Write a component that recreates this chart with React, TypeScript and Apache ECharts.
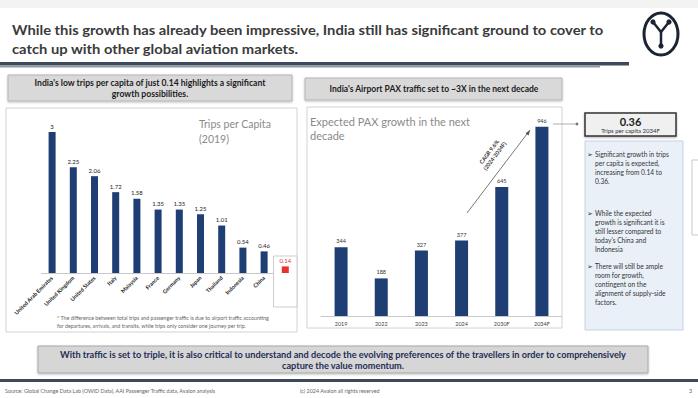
import React, { useEffect, useRef } from "react";
import * as echarts from "echarts";

const countries = [
  "United Arab Emirates", "United Kingdom", "United States", "Italy", "Malaysia",
  "France", "Germany", "Japan", "Thailand", "Indonesia", "China", "India",
];
const tripsPerCapita = [3, 2.25, 2.06, 1.72, 1.58, 1.35, 1.35, 1.25, 1.01, 0.54, 0.46, 0.14];
const highlightCountry = "India";
const paxYears = ["2019", "2022", "2023", "2024", "2030F", "2034F"];
const paxMillions = [344, 188, 327, 377, 645, 946];

const FONT = "Lato, 'Liberation Sans', sans-serif";
const NAVY = "#1f3e74";
const RED = "#e8322c";

function txt(x: number, y: number, text: string, o: any = {}) {
  const align = o.align || "left";
  const va = o.va || "middle";
  return {
    type: "text",
    x,
    y,
    rotation: o.rotation || 0,
    scaleX: o.sx || 1,
    z: o.z ?? 10,
    style: {
      text,
      fontSize: o.size || 7,
      fontFamily: FONT,
      fontWeight: o.weight || "normal",
      fill: o.color || "#333",
      textAlign: align,
      align,
      textVerticalAlign: va,
      verticalAlign: va,
      lineHeight: o.lh,
    },
  };
}

function rect(x: number, y: number, w: number, h: number, fill: string, stroke?: string, lw = 1, extra: any = {}) {
  return {
    type: "rect",
    shape: { x, y, width: w, height: h },
    z: extra.z ?? 1,
    style: { fill, stroke: stroke || null, lineWidth: stroke ? lw : 0, ...(extra.style || {}) },
  };
}

export default function App() {
  const ref = useRef<HTMLDivElement>(null);
  useEffect(() => {
    if (!ref.current) return;
    const chart = echarts.init(ref.current, null, { renderer: "svg" });

    const tripData = tripsPerCapita.map((v, i) =>
      countries[i] === highlightCountry
        ? { value: v, itemStyle: { color: RED }, label: { color: RED } }
        : v
    );

    const bulletLines = [
      ["Significant growth in trips", "per capita is expected,", "increasing from 0.14 to", "0.36."],
      ["While the expected", "growth is significant it is", "still lesser compared to", "today's China and", "Indonesia"],
      ["There will still be ample", "room for growth,", "contingent on the", "alignment of supply-side", "factors."],
    ];
    const bulletTops = [154, 213, 266];
    const bulletGraphics: any[] = [];
    bulletLines.forEach((lines, b) => {
      bulletGraphics.push(txt(587, bulletTops[b], "➢", { size: 6.5, color: "#333" }));
      bulletGraphics.push(
        txt(595, bulletTops[b] - 4.5, lines.join("\n"), { size: 6.6, color: "#333", va: "top", lh: 9 })
      );
    });

    const shadow = { shadowBlur: 2, shadowColor: "rgba(0,0,0,0.25)", shadowOffsetY: 1 };

    const option: any = {
      animation: false,
      backgroundColor: "#ffffff",
      grid: [
        { left: 41.5, width: 254.4, top: 132, height: 141 },
        { left: 321, width: 241, top: 116, height: 200 },
      ],
      xAxis: [
        {
          type: "category",
          gridIndex: 0,
          data: countries,
          axisLine: { lineStyle: { color: "#c8c8c8" } },
          axisTick: { show: false },
          axisLabel: {
            rotate: 45,
            fontSize: 5.5,
            fontWeight: "bold",
            color: "#222",
            fontFamily: FONT,
            margin: 4,
            interval: 0,
          },
        },
        {
          type: "category",
          gridIndex: 1,
          data: paxYears,
          axisLine: { lineStyle: { color: "#c8c8c8" } },
          axisTick: { show: false },
          axisLabel: { fontSize: 5.5, color: "#444", fontFamily: FONT, margin: 5, interval: 0 },
        },
      ],
      yAxis: [
        { type: "value", gridIndex: 0, min: 0, max: 3, show: false },
        { type: "value", gridIndex: 1, min: 0, max: 1000, show: false },
      ],
      series: [
        {
          type: "bar",
          xAxisIndex: 0,
          yAxisIndex: 0,
          data: tripData,
          barWidth: 7,
          itemStyle: { color: NAVY },
          label: { show: true, position: "top", fontSize: 6, color: "#222", fontFamily: FONT, distance: 3 },
          z: 3,
        },
        {
          type: "bar",
          xAxisIndex: 1,
          yAxisIndex: 1,
          data: paxMillions,
          barWidth: 13,
          itemStyle: { color: NAVY },
          label: { show: true, position: "top", fontSize: 5.5, color: "#333", fontFamily: FONT, distance: 3 },
          z: 3,
        },
      ],
      graphic: {
        elements: [
          rect(0, 0, 698, 8, "#f3f3f3"),
          // title
          txt(12, 30, "While this growth has already been impressive, India still has significant ground to cover to", {
            size: 14, weight: "bold", color: "#3a3a3a", sx: 1.055,
          }),
          txt(12, 48.5, "catch up with other global aviation markets.", { size: 14, weight: "bold", color: "#3a3a3a", sx: 1.055 }),
          // logo
          {
            type: "ellipse",
            shape: { cx: 661, cy: 34, rx: 17, ry: 21 },
            z: 5,
            style: { fill: "none", stroke: "#1b2433", lineWidth: 3 },
          },
          { type: "polyline", z: 5, shape: { points: [[653, 22], [661, 32], [669, 22]] }, style: { stroke: "#1b2433", lineWidth: 2.5, fill: "none" } },
          { type: "line", z: 5, shape: { x1: 661, y1: 32, x2: 661, y2: 46 }, style: { stroke: "#1b2433", lineWidth: 2.5 } },
          { type: "circle", z: 5, shape: { cx: 653, cy: 22, r: 2.6 }, style: { fill: "#1b2433" } },
          { type: "circle", z: 5, shape: { cx: 669, cy: 22, r: 2.6 }, style: { fill: "#1b2433" } },
          { type: "circle", z: 5, shape: { cx: 661, cy: 46, r: 2.6 }, style: { fill: "#1b2433" } },
          // title underline
          rect(0, 62, 629, 3.5, "#3e4a5b"),
          rect(0, 65.5, 600, 2, "#8d97a5"),
          // left header
          rect(8, 75, 284, 26, "#d9d9d9", "#b5b5b5", 1, { style: shadow }),
          txt(150, 83, "India's low trips per capita of just 0.14 highlights a significant", { size: 8.6, weight: "bold", color: "#1c1c1c", align: "center" }),
          txt(150, 94, "growth possibilities.", { size: 8.6, weight: "bold", color: "#1c1c1c", align: "center" }),
          // left chart box
          rect(6, 108, 291, 224, "none", "#d2d2d2", 1, { z: 0 }),
          txt(199, 124, "Trips per Capita", { size: 10.5, color: "#8a8a8a" }),
          txt(199, 139, "(2019)", { size: 10.5, color: "#8a8a8a" }),
          rect(273.5, 256, 23.5, 51, "#ffffff", "#c0c0c0", 0.8, { z: 1 }),
          txt(57, 318, "* The difference between total trips and passenger traffic is due to airport traffic accounting", { size: 5.3, color: "#666" }),
          txt(57, 326, "for departures, arrivals, and transits, while trips only consider one journey per trip.", { size: 5.3, color: "#666" }),
          // right header
          rect(305, 78, 257, 22, "#d9d9d9", "#b5b5b5", 1, { style: shadow }),
          txt(434, 89, "India's Airport PAX traffic set to ~3X in the next decade", { size: 8.5, weight: "bold", color: "#1c1c1c", align: "center" }),
          // right chart box
          rect(307, 107, 255, 221, "none", "#d2d2d2", 1, { z: 0 }),
          txt(310, 121, "Expected PAX growth in the next", { size: 11, color: "#8a8a8a" }),
          txt(310, 135, "decade", { size: 11, color: "#8a8a8a" }),
          // CAGR arrow
          { type: "line", z: 5, shape: { x1: 467, y1: 213, x2: 530, y2: 130 }, style: { stroke: "#555", lineWidth: 0.8 } },
          { type: "polygon", z: 5, shape: { points: [[530, 130], [525.5, 133.2], [528.6, 135.5]] }, style: { fill: "#555" } },
          txt(492, 154, "CAGR 9.6%\n(2024-2034F)", {
            size: 5.5, weight: "bold", color: "#333", align: "center", rotation: (53 * Math.PI) / 180, lh: 7,
          }),
          // connector to 0.36 box
          { type: "line", z: 5, shape: { x1: 553, y1: 124, x2: 577, y2: 124 }, style: { stroke: "#9a9a9a", lineWidth: 0.8 } },
          { type: "circle", z: 5, shape: { cx: 577, cy: 124, r: 1.4 }, style: { fill: "#777" } },
          // 0.36 box
          rect(585, 113, 91, 23, "#f0f0f0", "#333", 1.5, { style: { shadowBlur: 2, shadowColor: "rgba(0,0,0,0.3)", shadowOffsetY: 1 } }),
          txt(630.5, 121, "0.36", { size: 11, weight: "bold", color: "#222", align: "center" }),
          txt(630.5, 130.5, "Trips per capita 2034F", { size: 6, color: "#333", align: "center" }),
          // bullet box
          rect(585, 141, 98, 189, "#eaf0f8", "#c5d2e2", 1),
          ...bulletGraphics,
          // right edge partial box
          rect(692, 160, 20, 75, "#ffffff", "#c8c8c8", 1),
          // bottom callout
          rect(38, 346, 610, 27, "#d6d6d6", "#a8a8a8", 1, { style: shadow }),
          txt(343, 354.5, "With traffic is set to triple, it is also critical to understand and decode the evolving preferences of the travellers in order to comprehensively", {
            size: 9.2, weight: "bold", color: "#1f2d55", align: "center",
          }),
          txt(343, 365.5, "capture the value momentum.", { size: 9.2, weight: "bold", color: "#1f2d55", align: "center" }),
          // footer
          rect(0, 379, 698, 3, "#3e4a5b"),
          txt(5, 391, "Source: Global Change Data Lab (OWID Data), AAI Passenger Traffic data, Avalon analysis", { size: 5.4, color: "#666" }),
          txt(300, 391, "(c) 2024 Avalon all rights reserved", { size: 5.4, color: "#666" }),
          txt(689, 391, "3", { size: 5.4, color: "#666" }),
        ],
      },
    };

    chart.setOption(option);
    return () => chart.dispose();
  }, []);

  return (
    <div
      ref={ref}
      style={{ position: "fixed", left: 0, top: 0, width: 698, height: 398, background: "#fff" }}
    />
  );
}
